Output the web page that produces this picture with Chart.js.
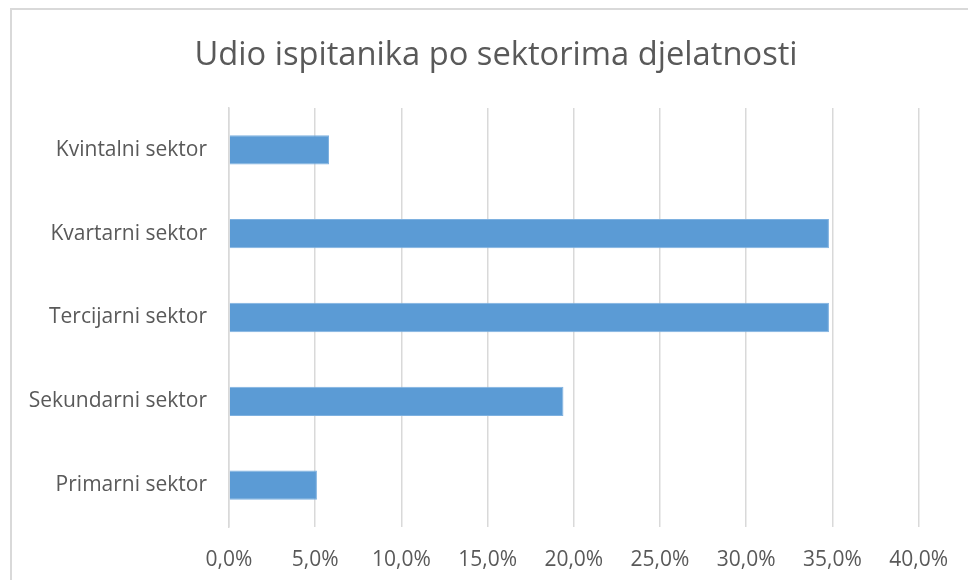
<!DOCTYPE html>
<html>
<head>
<meta charset="utf-8">
<script src="https://cdn.jsdelivr.net/npm/chart.js@4"></script>
<style>
  html, body { margin: 0; padding: 0; background: #fff; overflow: hidden; }
  #wrap { position: relative; width: 968px; height: 580px; }
  #frame { position: absolute; left: 10px; top: 8px; width: 1000px; height: 640px; border: 2px solid #d9d9d9; box-sizing: border-box; }
  canvas { position: absolute; left: 0; top: 0; }
</style>
</head>
<body>
<div id="wrap">
  <div id="frame"></div>
  <canvas id="c" width="968" height="580"></canvas>
</div>
<script>
const titleText = 'Udio ispitanika po sektorima djelatnosti';
const categories = ['Kvintalni sektor', 'Kvartarni sektor', 'Tercijarni sektor', 'Sekundarni sektor', 'Primarni sektor'];
const shares = [5.8, 34.8, 34.8, 19.4, 5.1];
const xTicks = [0, 5, 10, 15, 20, 25, 30, 35, 40];

const FONT = "'Open Sans', sans-serif";
const TXT = '#595959';

const titleDraw = {
  id: 'titleDraw',
  afterDraw(chart) {
    const ctx = chart.ctx;
    ctx.save();
    ctx.font = "32.7px 'Open Sans', sans-serif";
    ctx.fillStyle = TXT;
    ctx.textAlign = 'center';
    ctx.textBaseline = 'alphabetic';
    ctx.fillText(titleText, 496, 65);
    ctx.restore();
  }
};

new Chart(document.getElementById('c'), {
  type: 'bar',
  data: {
    labels: categories,
    datasets: [{
      data: shares,
      backgroundColor: '#5b9bd5',
      borderColor: '#7eb1e0',
      borderWidth: 1,
      categoryPercentage: 1,
      barPercentage: 0.35
    }]
  },
  plugins: [titleDraw],
  options: {
    indexAxis: 'y',
    responsive: false,
    animation: false,
    layout: { padding: { left: 11, right: 49, top: 108, bottom: 0 } },
    plugins: {
      legend: { display: false },
      tooltip: { enabled: false },
      title: { display: false }
    },
    scales: {
      x: {
        min: 0, max: 40,
        afterBuildTicks: (s) => { s.ticks = xTicks.map(v => ({ value: v })); },
        afterFit: (s) => { s.height = 53; },
        ticks: {
          color: TXT,
          font: { family: FONT, size: 21 },
          padding: 20,
          callback: (v) => v.toFixed(1).replace('.', ',') + '%'
        },
        grid: { color: '#d9d9d9', lineWidth: 1.5, drawTicks: false },
        border: { display: false }
      },
      y: {
        afterFit: (s) => { s.width = 218; },
        ticks: {
          color: TXT,
          font: { family: FONT, size: 21 },
          padding: 22
        },
        grid: { display: false, drawTicks: false },
        border: { display: true, color: '#d9d9d9', width: 1.5 }
      }
    }
  }
});
</script>
</body>
</html>
